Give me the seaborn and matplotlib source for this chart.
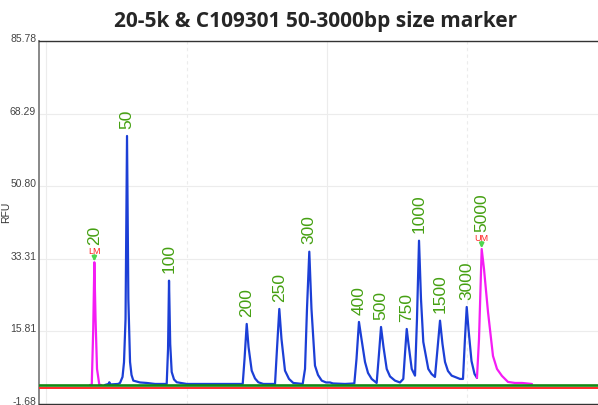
import matplotlib
matplotlib.use("Agg")
import matplotlib.pyplot as plt
import seaborn as sns

# 电泳图数据 (时间 s, RFU)
blue_t = [28.40, 28.90, 29.01, 29.18, 30.25, 30.53, 30.89, 31.10, 31.32, 31.53, 31.72, 31.96, 32.17, 32.43,
          33.38, 34.34, 35.52, 37.18, 37.37, 37.51, 37.68, 37.89, 38.22, 38.61, 40.03,
          48.00, 48.26, 48.57, 48.83, 49.28, 49.75, 50.22, 50.93,
          52.60, 52.88, 53.21, 53.52, 54.02, 54.59, 55.20,
          56.54, 56.87, 57.15, 57.48, 57.79, 58.29, 58.72, 59.25, 59.86, 60.43, 60.85, 62.56,
          63.89, 64.20, 64.55, 64.91, 65.41, 65.84, 66.36, 67.07,
          67.40, 67.69, 68.04, 68.50, 68.97, 69.68, 70.39,
          70.86, 71.10, 71.35, 71.60, 72.06, 72.53,
          72.81, 73.10, 73.38, 73.71, 74.42, 74.88, 75.37,
          75.73, 76.09, 76.44, 76.80, 77.22, 77.75, 78.22, 78.93,
          79.36, 79.64, 79.89, 80.14, 80.57, 81.00, 81.35]
blue_rfu = [2.91, 3.15, 3.56, 3.03, 3.15, 3.39, 4.84, 8.38, 18.81, 62.90, 23.63, 8.45, 5.32, 3.95,
            3.51, 3.39, 3.15, 3.15, 11.58, 28.04, 12.79, 6.04, 4.24, 3.56, 3.15,
            3.15, 9.17, 17.61, 12.07, 6.36, 4.48, 3.56, 3.15,
            3.15, 11.58, 21.22, 13.99, 6.36, 4.36, 3.39,
            3.15, 6.77, 21.22, 35.02, 21.22, 7.56, 5.32, 3.95, 3.51, 3.51, 3.27, 3.15,
            3.27, 9.17, 18.09, 13.99, 8.45, 5.80, 4.36, 3.39,
            10.38, 16.88, 12.07, 6.77, 4.96, 3.95, 3.51,
            4.36, 10.38, 16.40, 12.79, 6.77, 5.15,
            18.81, 37.67, 23.63, 13.27, 6.77, 5.56, 4.84,
            11.58, 18.40, 12.79, 8.45, 6.28, 5.15, 4.84, 4.36,
            4.36, 13.99, 21.70, 16.40, 8.69, 5.56, 4.60]

# 下标 (LM) 和上标 (UM)
lm_t = [26.26, 26.51, 26.72, 26.88, 27.05, 27.26, 27.59, 27.83]
lm_rfu = [2.91, 2.91, 16.40, 32.47, 18.81, 6.77, 2.91, 2.91]
um_t = [81.35, 81.64, 82.02, 82.35, 82.92, 83.63, 84.20, 84.91, 85.77, 86.76, 87.76, 89.18]
um_rfu = [4.60, 13.99, 35.67, 30.86, 20.50, 9.90, 6.77, 5.08, 3.63, 3.39, 3.39, 3.15]

# 峰标注
peak_bp = ["20", "50", "100", "200", "250", "300", "400", "500", "750", "1000", "1500", "3000", "5000"]
peak_t = [26.88, 31.53, 37.51, 48.57, 53.21, 57.48, 64.55, 67.69, 71.35, 73.10, 76.09, 79.89, 82.02]
peak_rfu = [32.47, 62.90, 28.04, 17.61, 21.22, 35.02, 18.09, 16.88, 16.40, 37.67, 18.40, 21.70, 35.67]
marker_names = {"20": "LM", "5000": "UM"}

baseline_green = 2.91
baseline_red = 2.15

y_ticks = [-1.68, 15.81, 33.31, 50.80, 68.29, 85.78]

sns.set_theme(style="white")
plt.rcParams["font.family"] = ["Liberation Sans", "DejaVu Sans"]

fig = plt.figure(figsize=(5.98, 4.06), dpi=100)
ax = fig.add_axes([39 / 598, 1 / 406, 1 - 39 / 598, 363 / 406])

# 网格
ax.set_xticks([20, 60])
ax.set_xticks([40, 80], minor=True)
ax.grid(True, which="major", axis="x", color="#ececec", lw=0.8)
ax.grid(True, which="minor", axis="x", color="#ececec", lw=0.8, ls=(0, (3, 3)))
ax.grid(True, which="major", axis="y", color="#ececec", lw=0.8)
ax.set_axisbelow(True)

# 基线
ax.axhline(baseline_red, color="#ff2a2a", lw=1.4, zorder=3)
ax.axhline(baseline_green, color="#138a13", lw=1.9, zorder=4)

sns.lineplot(x=blue_t, y=blue_rfu, ax=ax, color="#1c3fd6", lw=1.6, estimator=None, sort=False, zorder=3)
sns.lineplot(x=lm_t, y=lm_rfu, ax=ax, color="#f41cf4", lw=1.6, estimator=None, sort=False, zorder=3)
sns.lineplot(x=um_t, y=um_rfu, ax=ax, color="#f41cf4", lw=1.6, estimator=None, sort=False, zorder=3)

for bp, t, h in zip(peak_bp, peak_t, peak_rfu):
    if bp in marker_names:
        ax.annotate("", xy=(t, h), xytext=(0, 5), textcoords="offset points",
                    arrowprops=dict(arrowstyle="-|>", color="#4fd44f", lw=1.6,
                                    mutation_scale=6, shrinkA=0, shrinkB=0.5), zorder=5)
        ax.annotate(marker_names[bp], xy=(t, h), xytext=(0, 5), textcoords="offset points",
                    ha="center", va="bottom", fontsize=6.5, color="#ff2020")
        off = 13
    else:
        off = 6
    ax.annotate(bp, xy=(t, h), xytext=(0, off), textcoords="offset points",
                rotation=90, ha="center", va="bottom", fontsize=12.5, color="#45a012")

ax.set_xlim(19.0, 98.58)
ax.set_ylim(-1.68, 85.78)
ax.set_yticks(y_ticks)
ax.set_yticklabels([f"{v:.2f}" for v in y_ticks])
ax.tick_params(axis="y", length=0, pad=2, labelsize=7.5, labelcolor="#444444")
ax.tick_params(axis="x", which="both", length=0, labelbottom=False)
for lab in ax.get_yticklabels():
    lab.set_va("baseline")
ax.set_ylabel("RFU", fontsize=7.5, color="#333333")
ax.yaxis.set_label_coords(-28 / 559, 0.53)

ax.spines["right"].set_visible(False)
ax.spines["left"].set_color("#888888")
ax.spines["left"].set_linewidth(1.4)
ax.spines["top"].set_color("#333333")
ax.spines["top"].set_linewidth(1.0)
ax.spines["bottom"].set_color("#333333")
ax.spines["bottom"].set_linewidth(1.0)

ax.set_title("20-5k & C109301 50-3000bp size marker", fontsize=15, fontweight="bold",
             family=["Open Sans", "DejaVu Sans"], pad=11, x=(316 - 39) / 559)

fig.savefig("out.png", dpi=100)
